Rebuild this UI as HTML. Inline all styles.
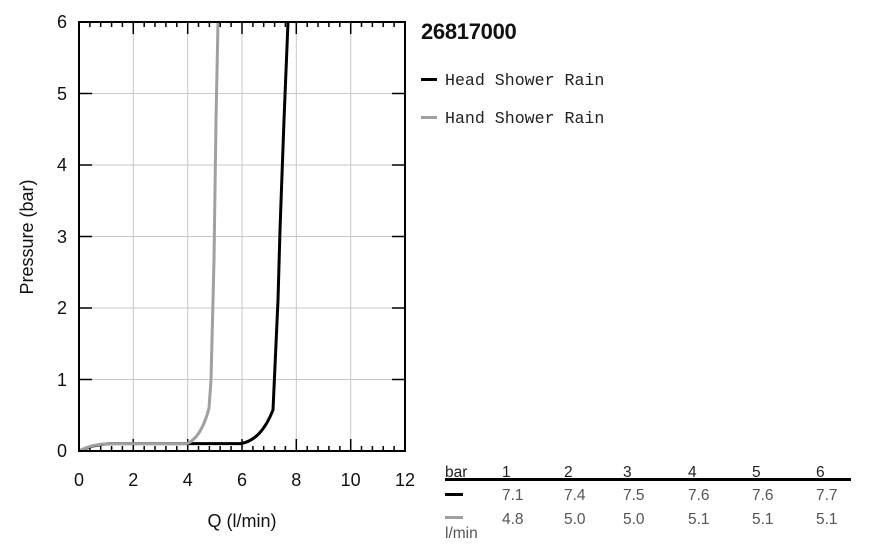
<!DOCTYPE html>
<html><head><meta charset="utf-8"><style>
body{margin:0;background:#fff;width:871px;height:553px;overflow:hidden}
svg{display:block}
text{font-family:"Liberation Sans",Arial,sans-serif}
</style></head><body>
<svg width="871" height="553" viewBox="0 0 871 553">
<g stroke="#c8c8c8" stroke-width="1">
<line x1="133.3" y1="22" x2="133.3" y2="451"/><line x1="187.7" y1="22" x2="187.7" y2="451"/>
<line x1="242" y1="22" x2="242" y2="451"/><line x1="296.3" y1="22" x2="296.3" y2="451"/>
<line x1="350.7" y1="22" x2="350.7" y2="451"/>
<line x1="79" y1="379.5" x2="405" y2="379.5"/><line x1="79" y1="308" x2="405" y2="308"/>
<line x1="79" y1="236.5" x2="405" y2="236.5"/><line x1="79" y1="165" x2="405" y2="165"/>
<line x1="79" y1="93.5" x2="405" y2="93.5"/>
</g>
<g stroke="#000" stroke-width="1.5">
<path d="M89.9 22v5M100.7 22v5M111.6 22v5M122.4 22v5M133.3 22v12M144.2 22v5M155 22v5M165.9 22v5M176.8 22v5M187.7 22v12M198.5 22v5M209.4 22v5M220.2 22v5M231.1 22v5M242 22v12M252.9 22v5M263.7 22v5M274.6 22v5M285.4 22v5M296.3 22v12M307.2 22v5M318 22v5M328.9 22v5M339.8 22v5M350.7 22v12M361.5 22v5M372.4 22v5M383.2 22v5M394.1 22v5"/>
<path d="M89.9 451v-5M100.7 451v-5M111.6 451v-5M122.4 451v-5M133.3 451v-12M144.2 451v-5M155 451v-5M165.9 451v-5M176.8 451v-5M187.7 451v-12M198.5 451v-5M209.4 451v-5M220.2 451v-5M231.1 451v-5M242 451v-12M252.9 451v-5M263.7 451v-5M274.6 451v-5M285.4 451v-5M296.3 451v-12M307.2 451v-5M318 451v-5M328.9 451v-5M339.8 451v-5M350.7 451v-12M361.5 451v-5M372.4 451v-5M383.2 451v-5M394.1 451v-5"/>
<path d="M79 379.5h13M79 308h13M79 236.5h13M79 165h13M79 93.5h13M405 379.5h-13M405 308h-13M405 236.5h-13M405 165h-13M405 93.5h-13"/>
</g>
<path d="M79 451 C90 446 100 444 110 443.6 L241 443.6 C255 441 265 430 273 410 L278 300 L280 230 L284 120 L288 22" fill="none" stroke="#000" stroke-width="3"/>
<path d="M79 451 C88 446 98 443.6 112 443.6 L187 443.6 C196 440 204 428 209 408 L211 380 L214 260 L216 120 L218 22" fill="none" stroke="#a0a0a0" stroke-width="3"/>
<rect x="79" y="22" width="326" height="429" fill="none" stroke="#000" stroke-width="2"/>
<g font-size="18" fill="#111">
<g text-anchor="end"><text x="67" y="457">0</text><text x="67" y="386">1</text><text x="67" y="314">2</text><text x="67" y="243">3</text><text x="67" y="171">4</text><text x="67" y="100">5</text><text x="67" y="28">6</text></g>
<g text-anchor="middle"><text x="79" y="486">0</text><text x="133.3" y="486">2</text><text x="187.7" y="486">4</text><text x="242" y="486">6</text><text x="296.3" y="486">8</text><text x="350.7" y="486">10</text><text x="405" y="486">12</text></g>
<text x="242" y="527" text-anchor="middle">Q (l/min)</text>
<text transform="translate(33,237) rotate(-90)" text-anchor="middle">Pressure (bar)</text>
</g>
<text x="421" y="39" font-size="22" font-weight="bold" fill="#111" letter-spacing="-0.3">26817000</text>
<rect x="421" y="78" width="16" height="3" fill="#000"/>
<rect x="421" y="116" width="16" height="3" fill="#a0a0a0"/>
<g font-size="16.6" fill="#222"><text x="445" y="85" style="font-family:'Liberation Mono',monospace">Head Shower Rain</text><text x="445" y="123" style="font-family:'Liberation Mono',monospace">Hand Shower Rain</text></g>
<g font-size="15.5" fill="#555">
<text x="445" y="477" fill="#222">bar</text>
<text x="502" y="477" fill="#222">1</text><text x="564" y="477" fill="#222">2</text><text x="623" y="477" fill="#222">3</text><text x="688" y="477" fill="#222">4</text><text x="752" y="477" fill="#222">5</text><text x="816" y="477" fill="#222">6</text>
<text x="502" y="500">7.1</text><text x="564" y="500">7.4</text><text x="623" y="500">7.5</text><text x="688" y="500">7.6</text><text x="752" y="500">7.6</text><text x="816" y="500">7.7</text>
<text x="502" y="524">4.8</text><text x="564" y="524">5.0</text><text x="623" y="524">5.0</text><text x="688" y="524">5.1</text><text x="752" y="524">5.1</text><text x="816" y="524">5.1</text>
<text x="445" y="538">l/min</text>
</g>
<rect x="445" y="478" width="406" height="3" fill="#000"/>
<rect x="445" y="493" width="18" height="3" fill="#000"/>
<rect x="445" y="516" width="18" height="3" fill="#a0a0a0"/>
</svg>
</body></html>
